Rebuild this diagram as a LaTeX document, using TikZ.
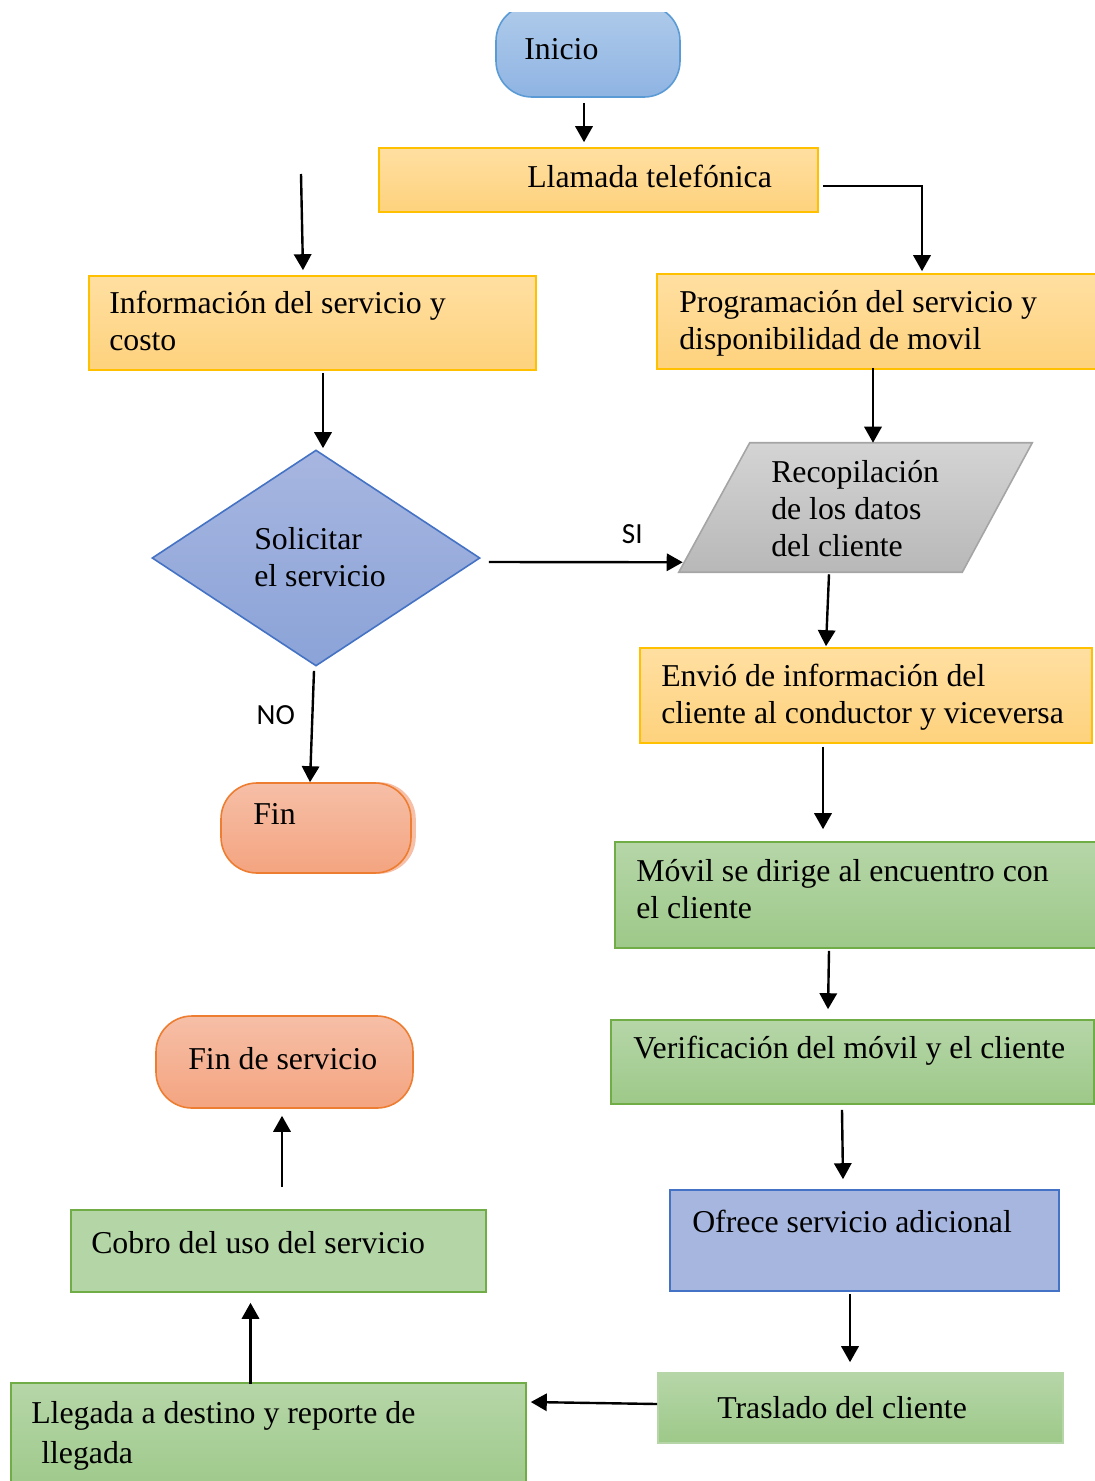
\documentclass[tikz,border=0pt]{standalone}
\usepackage{fontspec}
\setmainfont{Liberation Serif}
\newfontfamily\calibri{Carlito}
\usetikzlibrary{arrows.meta,shapes.geometric,fit}
\definecolor{yfillt}{HTML}{FFDFA1}
\definecolor{yfillb}{HTML}{FED27D}
\definecolor{ydraw}{HTML}{FFC000}
\definecolor{bfillt}{HTML}{AFCBEA}
\definecolor{bfillb}{HTML}{8FB4E3}
\definecolor{bdraw}{HTML}{5B9BD5}
\definecolor{dfillt}{HTML}{A7B6E0}
\definecolor{dfillb}{HTML}{8BA3D8}
\definecolor{ddraw}{HTML}{4472C4}
\definecolor{gfillt}{HTML}{D4D4D4}
\definecolor{gfillb}{HTML}{B8B8B8}
\definecolor{gdraw}{HTML}{A5A5A5}
\definecolor{vfillt}{HTML}{B6D6A8}
\definecolor{vfillb}{HTML}{9DC989}
\definecolor{vdraw}{HTML}{70AD47}
\definecolor{ofill}{HTML}{A7B6DF}
\definecolor{cfill}{HTML}{B4D5A6}
\definecolor{rfillt}{HTML}{F6BFA7}
\definecolor{rfillb}{HTML}{F4A480}
\definecolor{rdraw}{HTML}{ED7D31}
\begin{document}
\begin{tikzpicture}[x=0.75pt,y=-0.75pt,
    box/.style={draw, line width=1.2pt, inner sep=0pt},
    ybox/.style={box, draw=ydraw, top color=yfillt, bottom color=yfillb},
    vbox/.style={box, draw=vdraw, top color=vfillt, bottom color=vfillb},
    term/.style={box, rounded corners=27pt},
    txt/.style={anchor=base west, inner sep=0pt, align=left, font=\fontsize{23.85}{27.75}\selectfont},
    lbl/.style={inner sep=0pt, font=\calibri\fontsize{21.9}{26}\selectfont},
    arr/.style={line width=1.8pt, -{Triangle[length=12pt,width=13pt]}}]
  \useasboundingbox (0,0) rectangle (1095,1481);
  \clip (0,0) rectangle (1095,1481);
  % shapes
  \begin{scope}
    \clip (0,12) rectangle (1095,200);
    \node[term, draw=bdraw, top color=bfillt, bottom color=bfillb, fit={(496,5) (680,97)}] (inicio) {};
  \end{scope}
  \node[ybox, fit={(379,148) (818,212)}] (llamada) {};
  \node[ybox, fit={(89,276) (536,370)}] (info) {};
  \node[ybox, fit={(657,274) (1105,369)}] (prog) {};
  \node[box, diamond, draw=ddraw, top color=dfillt, bottom color=dfillb,
    minimum width=246pt, minimum height=162pt] (sol) at (316,558) {};
  \node[inner sep=0pt, fit={(679,443) (1032,572)}] (recop) {};
  \draw[line width=1.2pt, draw=gdraw, top color=gfillt, bottom color=gfillb]
    ([xshift=53.25pt]recop.north west) -- (recop.north east)
    -- ([xshift=-52.5pt]recop.south east) -- (recop.south west) -- cycle;
  \node[ybox, fit={(640,648) (1092,743)}] (envio) {};
  \node[term, draw=rdraw, top color=rfillt, bottom color=rfillb,
    preaction={draw=rfillt, fill=rfillt, transform canvas={xshift=3pt}},
    fit={(221,783) (411,873)}] (fin) {};
  \node[vbox, fit={(615,842) (1105,948)}] (movil) {};
  \node[vbox, fit={(611,1020) (1094,1104)}] (verif) {};
  \node[box, draw=ddraw, fill=ofill, fit={(670,1190) (1059,1291)}] (ofrece) {};
  \node[vbox, draw=vfillt, fit={(658,1373) (1063,1443)}] (traslado) {};
  \node[vbox, fit={(11,1383) (526,1495)}] (llegada) {};
  \node[box, draw=vdraw, fill=cfill, fit={(71,1210) (486,1292)}] (cobro) {};
  \node[term, draw=rdraw, top color=rfillt, bottom color=rfillb, fit={(156,1016) (413,1108)}] (finserv) {};
  % texts (base = last line)
  \node[txt] (tinicio) at (524,59) {Inicio};
  \node[txt] (tllamada) at (527,187) {Llamada telefónica};
  \node[txt] (tinfo) at (109,350) {Información del servicio y\\costo};
  \node[txt] (tprog) at (679,349) {Programación del servicio y\\disponibilidad de movil};
  \node[txt] (tsol) at (254,586) {Solicitar\\el servicio};
  \node[txt] (trecop) at (771,556) {Recopilación\\de los datos\\del cliente};
  \node[txt] (tenvio) at (661,723) {Envió de información del\\cliente al conductor y viceversa};
  \node[txt] (tfin) at (253,824) {Fin};
  \node[txt] (tmovil) at (636,918) {Móvil se dirige al encuentro con\\el cliente};
  \node[txt] (tverif) at (633,1058) {Verificación del móvil y el cliente};
  \node[txt] (tofrece) at (692,1232) {Ofrece servicio adicional};
  \node[txt] (ttraslado) at (717,1418) {Traslado del cliente};
  \node[txt, font=\fontsize{23.85}{30}\selectfont] (tllegada) at (31,1463) {Llegada a destino y reporte de\\\hspace*{7.5pt}llegada};
  \node[txt] (tcobro) at (91,1253) {Cobro del uso del servicio};
  \node[txt] (tfinserv) at (188,1069) {Fin de servicio};
  % connectors
  \coordinate (infoin) at (301,174);
  \draw[arr] ([shift={(-4,5)}]inicio.south) -- ([shift={(-14.5,-5)}]llamada.north);
  \draw[arr] ([shift={(4,6)}]llamada.east) -| ([shift={(41,-2)}]prog.north);
  \draw[arr] (infoin) -- ([shift={(-9.5,-5)}]info.north);
  \draw[arr] ([shift={(10.5,2)}]info.south) -- ([shift={(7,-1)}]sol.north);
  \draw[arr] ([shift={(-8,-2)}]prog.south) -- ([shift={(17.5,0)}]recop.north);
  \draw[arr] ([shift={(8,4)}]sol.east) -- node[lbl, pos=0.74, anchor=base, yshift=14pt] (lsi) {SI}
    ([shift={(4,-10)}]recop.south west);
  \draw[arr] ([shift={(-26.5,2)}]recop.south) -- ([shift={(-40,-1)}]envio.north);
  \draw[arr] ([shift={(-2,4)}]sol.south) -- node[lbl, pos=0.48, anchor=base east, xshift=-12pt] (lno) {NO}
    ([shift={(-6,0)}]fin.north);
  \draw[arr] ([shift={(-43,3)}]envio.south) -- ([shift={(-37,-12)}]movil.north);
  \draw[arr] ([shift={(-31,2)}]movil.south) -- ([shift={(-24.5,-10)}]verif.north);
  \draw[arr] ([shift={(-10.5,5)}]verif.south) -- ([shift={(-21.5,-10)}]ofrece.north);
  \draw[arr] ([shift={(-14.5,2)}]ofrece.south) -- ([shift={(-10.5,-10)}]traslado.north);
  \draw[arr] ([shift={(0,-4)}]traslado.west) -- ([shift={(4,-37)}]llegada.east);
  \draw[arr] ([shift={(-18,2)}]llegada.north) -- ([shift={(-28,10)}]cobro.south);
  \draw[arr] ([shift={(3.5,-22)}]cobro.north) -- ([shift={(-2.5,7)}]finserv.south);
\end{tikzpicture}
\end{document}
